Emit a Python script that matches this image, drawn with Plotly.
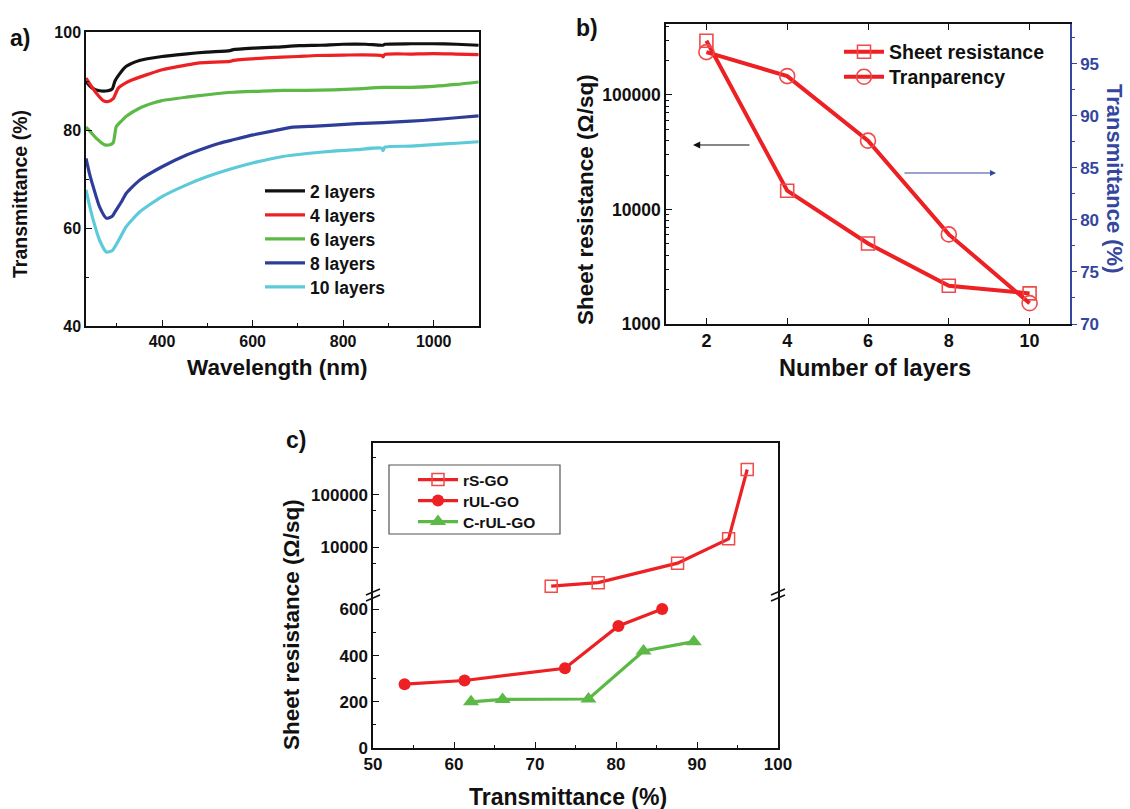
import plotly.graph_objects as go

# ---------------- data ----------------
# Panel a: transmittance spectra
wl_2 = [232, 245, 262, 280, 290, 296, 305, 321, 350, 400, 450, 498, 550, 557, 601, 650, 704, 750, 800, 850, 888, 892, 950, 999, 1050, 1099]
t_2 = [89.9, 88.6, 88.0, 88.0, 88.4, 90.0, 91.3, 93.0, 94.2, 95.0, 95.5, 95.9, 96.2, 96.4, 96.7, 96.9, 97.2, 97.3, 97.5, 97.5, 97.3, 97.5, 97.6, 97.6, 97.5, 97.3]
wl_4 = [232, 245, 255, 270, 280, 292, 303, 320, 336, 370, 400, 450, 483, 550, 557, 630, 700, 741, 800, 885, 888, 892, 950, 999, 1050, 1099]
t_4 = [90.6, 88.8, 87.5, 86.0, 85.8, 86.4, 88.5, 89.6, 90.3, 91.4, 92.3, 93.2, 93.7, 94.0, 94.2, 94.7, 95.0, 95.2, 95.3, 95.2, 94.9, 95.4, 95.5, 95.6, 95.5, 95.4]
wl_6 = [232, 245, 255, 273, 285, 292, 299, 310, 321, 351, 380, 400, 454, 500, 557, 610, 667, 720, 778, 830, 888, 950, 999, 1050, 1099]
t_6 = [80.6, 79.3, 78.3, 77.0, 77.0, 77.4, 80.7, 81.8, 82.8, 84.5, 85.5, 86.0, 86.7, 87.2, 87.7, 87.9, 88.1, 88.1, 88.2, 88.4, 88.7, 88.7, 88.9, 89.3, 89.8]
wl_8 = [232, 240, 248, 262, 277, 290, 296, 310, 321, 351, 400, 454, 500, 527, 557, 601, 650, 689, 740, 778, 830, 888, 950, 999, 1050, 1099]
t_8 = [74.2, 71.0, 68.4, 64.3, 62.0, 62.4, 63.3, 65.3, 67.1, 69.8, 72.5, 74.9, 76.5, 77.3, 78.0, 79.0, 79.9, 80.6, 80.8, 81.0, 81.3, 81.5, 81.8, 82.1, 82.5, 82.9]
wl_10 = [232, 240, 248, 262, 277, 290, 296, 310, 321, 351, 400, 454, 500, 557, 610, 667, 720, 778, 830, 885, 888, 892, 950, 999, 1050, 1099]
t_10 = [67.8, 64.5, 61.6, 57.5, 55.1, 55.4, 56.2, 58.5, 60.3, 63.3, 66.4, 68.8, 70.5, 72.2, 73.5, 74.6, 75.2, 75.7, 76.0, 76.3, 75.8, 76.5, 76.7, 77.0, 77.3, 77.6]
layer_labels = ["2 layers", "4 layers", "6 layers", "8 layers", "10 layers"]

# Panel b
layers = [2, 4, 6, 8, 10]
sheet_res_b = [298000, 14600, 5050, 2160, 1850]
transp_b = [96.1, 93.8, 87.6, 78.6, 72.0]

# Panel c
rs_go_T = [72.0, 77.8, 87.6, 93.9, 96.2]
rs_go_R = [1850, 2160, 5050, 14600, 300000]
rul_go_T = [53.9, 61.3, 73.7, 80.3, 85.7]
rul_go_R = [276, 292, 345, 528, 601]
crul_go_T = [62.1, 66.0, 76.6, 83.4, 89.6]
crul_go_R = [200, 210, 212, 420, 460]

# ---------------- style ----------------
FONT = "Liberation Sans"
BLACK = "#111111"
RED = "#ed2024"
GREEN = "#5cb946"
BLUE = "#2e3e98"
CYAN = "#5ccad9"
AXBLUE = "#34469e"
MRED = "#f04a4a"

W, H = 1130, 809
def px_x(p):
    return p / W
def px_y(p):
    return 1 - p / H

def bold(size, color=BLACK):
    return dict(family=FONT, size=size, color=color, weight="bold")

fig = go.Figure()
legends = {}
def add_legend(lid, x_px, y_px, size):
    legends[lid] = dict(x=px_x(x_px), y=px_y(y_px), xanchor="left", yanchor="middle",
                        bgcolor="rgba(0,0,0,0)", borderwidth=0, font=bold(size), itemwidth=40)

# ---- panel a ----
colors_a = [BLACK, RED, GREEN, BLUE, CYAN]
a_leg_y = [191, 215, 239, 263, 287]
for i, (wl, t, lab, c) in enumerate(zip([wl_2, wl_4, wl_6, wl_8, wl_10], [t_2, t_4, t_6, t_8, t_10], layer_labels, colors_a)):
    lid = "legend" if i == 0 else f"legend{i + 1}"
    add_legend(lid, 260, a_leg_y[i], 17.5)
    fig.add_trace(go.Scatter(x=wl, y=t, mode="lines", name=lab, line=dict(color=c, width=3.2, shape="spline", smoothing=0.6),
                             xaxis="x", yaxis="y", legend=lid))

# ---- panel b ----
add_legend("legend6", 839, 52, 19.5)
add_legend("legend7", 839, 77, 19.5)
fig.add_trace(go.Scatter(x=layers, y=sheet_res_b, mode="lines+markers", name="Sheet resistance",
                         line=dict(color=RED, width=4),
                         marker=dict(symbol="square-open", size=13, color=MRED, line=dict(width=1.6, color=MRED)),
                         xaxis="x2", yaxis="y2", legend="legend6"))
fig.add_trace(go.Scatter(x=layers, y=transp_b, mode="lines+markers", name="Tranparency",
                         line=dict(color=RED, width=4),
                         marker=dict(symbol="circle-open", size=15, color=MRED, line=dict(width=1.6, color=MRED)),
                         xaxis="x2", yaxis="y3", legend="legend7"))

# ---- panel c ----
add_legend("legend8", 413, 480, 15.5)
add_legend("legend9", 413, 501, 15.5)
add_legend("legend10", 413, 522, 15.5)
fig.add_trace(go.Scatter(x=rs_go_T, y=rs_go_R, mode="lines+markers", name="rS-GO",
                         line=dict(color=RED, width=3.2),
                         marker=dict(symbol="square-open", size=12, color=MRED, line=dict(width=1.5, color=MRED)),
                         xaxis="x4", yaxis="y5", legend="legend8"))
fig.add_trace(go.Scatter(x=rul_go_T, y=rul_go_R, mode="lines+markers", name="rUL-GO",
                         line=dict(color=RED, width=3.2),
                         marker=dict(symbol="circle", size=12, color=RED),
                         xaxis="x3", yaxis="y4", legend="legend9"))
fig.add_trace(go.Scatter(x=crul_go_T, y=crul_go_R, mode="lines+markers", name="C-rUL-GO",
                         line=dict(color=GREEN, width=3.2),
                         marker=dict(symbol="triangle-up", size=14, color=GREEN),
                         xaxis="x3", yaxis="y4", legend="legend10"))

base = dict(showline=True, linecolor=BLACK, linewidth=1.5, showgrid=False, zeroline=False,
            ticks="inside", ticklen=6, tickwidth=1.3, tickcolor=BLACK, tickfont=bold(16))

def ax(**kw):
    d = dict(base)
    d.update(kw)
    return d

a_dom_x = [px_x(86), px_x(479)]
a_dom_y = [px_y(326), px_y(32)]
b_dom_x = [px_x(666), px_x(1070)]
b_dom_y = [px_y(324), px_y(24)]
c_dom_x = [px_x(373), px_x(778)]
c_up_y = [px_y(595), px_y(443)]
c_lo_y = [px_y(748), px_y(595)]

fig.update_layout(
    width=W, height=H, margin=dict(l=0, r=0, t=0, b=0, autoexpand=False),
    paper_bgcolor="white", plot_bgcolor="rgba(0,0,0,0)",
    font=dict(family=FONT, color=BLACK),
    # panel a
    xaxis=ax(domain=a_dom_x, anchor="y", range=[232, 1100], mirror=True,
             tickvals=[400, 600, 800, 1000], minor=dict(tickvals=[300, 500, 700, 900], ticks="inside", ticklen=3, tickcolor=BLACK)),
    yaxis=ax(domain=a_dom_y, anchor="x", range=[40, 100], mirror=True,
             tickvals=[40, 60, 80, 100], minor=dict(tickvals=[50, 70, 90], ticks="inside", ticklen=3, tickcolor=BLACK)),
    # panel b
    xaxis2=ax(domain=b_dom_x, anchor="y2", range=[1, 11], mirror="ticks",
              tickvals=[2, 4, 6, 8, 10], tickfont=bold(18)),
    yaxis2=ax(domain=b_dom_y, anchor="x2", type="log", range=[3, 5.62],
              tickvals=[1000, 10000, 100000], ticktext=["1000", "10000", "100000"], tickfont=bold(17.5),
              minor=dict(ticks="inside", ticklen=3, tickcolor=BLACK, dtick="D1")),
    yaxis3=dict(showline=True, linecolor=AXBLUE, linewidth=1.5, showgrid=False, zeroline=False,
                overlaying="y2", side="right", anchor="x2", range=[70, 98.8],
                tickvals=[70, 75, 80, 85, 90, 95], ticks="outside", ticklen=5, tickwidth=1.3, tickcolor=AXBLUE,
                minor=dict(tickvals=[72.5, 77.5, 82.5, 87.5, 92.5, 97.5], ticks="outside", ticklen=3, tickcolor=AXBLUE),
                tickfont=bold(17, AXBLUE)),
    # panel c
    xaxis3=ax(domain=c_dom_x, anchor="y4", range=[50, 100], mirror=False,
              tickvals=[50, 60, 70, 80, 90, 100], tickfont=bold(17),
              minor=dict(tickvals=[55, 65, 75, 85, 95], ticks="inside", ticklen=3, tickcolor=BLACK)),
    xaxis4=dict(domain=c_dom_x, anchor="y5", matches="x3", range=[50, 100], side="top",
                showline=True, linecolor=BLACK, linewidth=1.5, showgrid=False, zeroline=False,
                showticklabels=False, ticks=""),
    yaxis4=ax(domain=c_lo_y, anchor="x3", range=[0, 662], mirror=True,
              tickvals=[0, 200, 400, 600], tickfont=bold(17),
              minor=dict(tickvals=[100, 300, 500], ticks="inside", ticklen=3, tickcolor=BLACK)),
    yaxis5=ax(domain=c_up_y, anchor="x4", type="log", range=[3.1, 5.98], mirror=True,
              tickvals=[10000, 100000], ticktext=["10000", "100000"], tickfont=bold(17),
              minor=dict(tickvals=[5000, 50000, 500000], ticks="inside", ticklen=3, tickcolor=BLACK)),
    showlegend=True,
)
fig.update_layout(**legends)

# legend frame for panel c
fig.add_shape(type="rect", xref="paper", yref="paper",
              x0=px_x(389), y0=px_y(534), x1=px_x(560), y1=px_y(465),
              line=dict(color="#555555", width=1.2), fillcolor="rgba(0,0,0,0)", layer="below")

# Axis titles as positioned text
titles = [
    ("Wavelength (nm)", 277, 367, 0, 22.5, BLACK),
    ("Transmittance (%)", 20, 194, -90, 19.5, BLACK),
    ("Number of layers", 875, 368, 0, 23.5, BLACK),
    ("Sheet resistance (Ω/sq)", 585, 200, -90, 22.5, BLACK),
    ("Transmittance (%)", 1114, 179, 90, 22, AXBLUE),
    ("Transmittance (%)", 568, 797, 0, 23, BLACK),
    ("Sheet resistance (Ω/sq)", 291, 625, -90, 22.5, BLACK),
]
for txt, xx, yy, ang, sz, col in titles:
    fig.add_annotation(text=txt, xref="paper", yref="paper", x=px_x(xx), y=px_y(yy),
                       xanchor="center", yanchor="middle", textangle=ang, showarrow=False,
                       font=bold(sz, col))

# Panel labels
for lab, xx, yy in [("a)", 20, 38), ("b)", 587, 28), ("c)", 296, 440)]:
    fig.add_annotation(text=lab, xref="paper", yref="paper", x=px_x(xx), y=px_y(yy),
                       xanchor="center", yanchor="middle", showarrow=False, font=bold(23))

# Panel b arrows
fig.add_annotation(x=px_x(693), y=px_y(145), xref="paper", yref="paper", ax=58, ay=0,
                   axref="pixel", ayref="pixel", text="", showarrow=True, arrowhead=2,
                   arrowsize=1.2, arrowwidth=1.2, arrowcolor=BLACK)
fig.add_annotation(x=px_x(996), y=px_y(173), xref="paper", yref="paper", ax=-93, ay=0,
                   axref="pixel", ayref="pixel", text="", showarrow=True, arrowhead=2,
                   arrowsize=1.2, arrowwidth=1.0, arrowcolor=AXBLUE)

# Axis-break marks on panel c
for xb in [373, 778]:
    for dy in [-3, 3]:
        fig.add_shape(type="line", xref="paper", yref="paper",
                      x0=px_x(xb - 7), y0=px_y(595 + dy + 3), x1=px_x(xb + 7), y1=px_y(595 + dy - 3),
                      line=dict(color=BLACK, width=1.5))

fig.write_html("out.html")
